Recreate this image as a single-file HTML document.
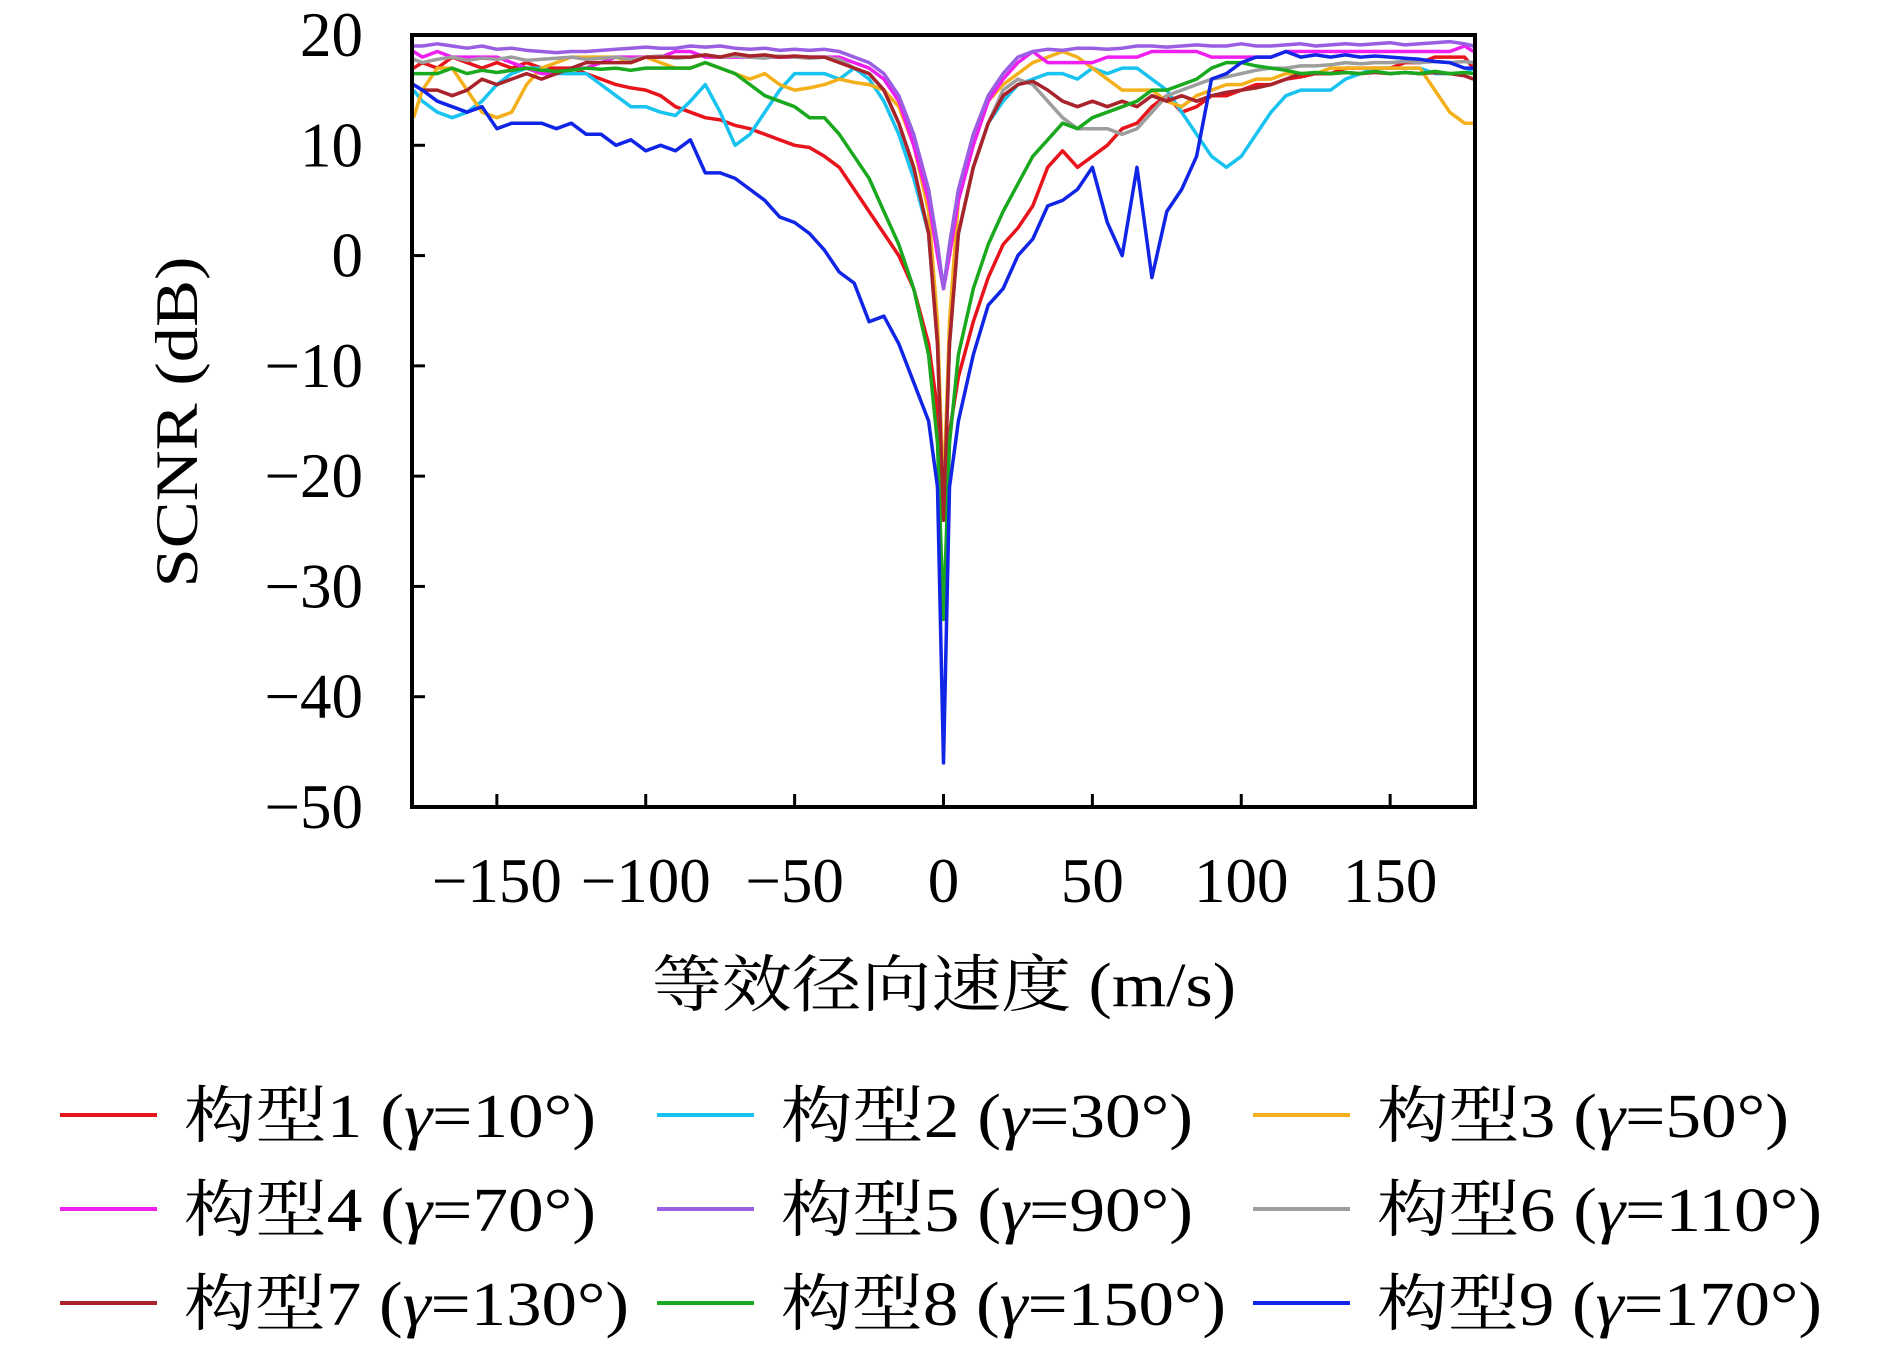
<!DOCTYPE html>
<html><head><meta charset="utf-8"><style>
html,body{margin:0;padding:0;background:#fff;}
svg{display:block;}
text{font-family:"Liberation Serif","Noto Serif CJK SC",serif;fill:#000;}
</style></head><body>
<svg id="chart" width="1890" height="1346" xmlns="http://www.w3.org/2000/svg">
<g id="series"></g>
<rect x="412" y="35" width="1063" height="772" fill="none" stroke="#000" stroke-width="4"/>
<g id="ticks"></g>
<text x="183" y="422" font-size="60" text-anchor="middle" dominant-baseline="middle" textLength="331" lengthAdjust="spacingAndGlyphs" transform="rotate(-90 183 422)">SCNR (dB)</text>
<text x="944" y="1006" font-size="62" text-anchor="middle" textLength="584" lengthAdjust="spacingAndGlyphs">等效径向速度 (m/s)</text>
<g id="legend"></g>
</svg>
<script>
const xs=[-178,-175,-170,-165,-160,-155,-150,-145,-140,-135,-130,-125,-120,-115,-110,-105,-100,-95,-90,-85,-80,-75,-70,-65,-60,-55,-50,-45,-40,-35,-30,-25,-20,-15,-10,-5,-2,0,2,5,10,15,20,25,30,35,40,45,50,55,60,65,70,75,80,85,90,95,100,105,110,115,120,125,130,135,140,145,150,155,160,165,170,175,178];
const s1=[17,17.5,17,18,17.5,17,17.5,17,17.5,17,17,17,16.5,16,15.5,15.2,15,14.5,13.5,13,12.5,12.3,11.8,11.5,11,10.5,10,9.8,9,8,6,4,2,0,-3,-8,-14,-24,-16,-11,-6,-2,1,2.5,4.5,8,9.5,8,9,10,11.5,12,13.5,14.5,13,13.5,14.5,14.5,15,15.5,15.5,16,16.2,16.5,16.5,17,17,17,17,17.5,17.5,18,18,18,17];
const s2=[15,14,13,12.5,13,14,15.5,16.5,17,17,16.5,16.5,16.5,15.5,14.5,13.5,13.5,13,12.7,14,15.5,13,10,11,13,15,16.5,16.5,16.5,16,17,16,14,11,7,2,-8,-24,-8,2,8,12,14,15.5,16,16.5,16.5,16,17,16.5,17,17,16,15,13,11,9,8,9,11,13,14.5,15,15,15,16,16.5,17,17,17,17,16.5,16.5,16.5,17];
const s3=[12.5,15,17,17,15,13,12.5,13,15.5,17,17.5,18,18,18,18,17.5,18,17.5,17,17,17.5,17,16.5,16,16.5,15.5,15,15.2,15.5,16,15.7,15.5,15,13.5,10,4,-6,-22,-6,5,11,14,15.5,16.5,17.5,18,18.5,18,17,16,15,15,15,14,13.5,14.5,15,15.5,15.5,16,16,16.5,16.5,16.5,17,17,17,17,17,17,17,15,13,12,12];
const s4=[18.5,18,18.5,18,18,18,18,17.5,17,16.5,16.5,17,17,17.5,18,18,18,18,18.5,18.5,18,18,18,18,18,18,18,18,18,18,17.5,17,16,14,10,5,0,-3,0,5,10,14,16,17.5,18.5,17.5,17.5,17.5,17.5,18,18,18,18.5,18.5,18.5,18.5,18,18,18,18,18,18.5,18.5,18.5,18.5,18.5,18.5,18.5,18.5,18.5,18.5,18.5,18.5,19,18.5];
const s5=[19,19,19.2,19,18.8,19,18.7,18.8,18.6,18.5,18.4,18.5,18.5,18.6,18.7,18.8,18.9,18.8,18.8,19,18.9,19,18.8,18.7,18.8,18.6,18.7,18.6,18.7,18.5,18,17.5,16.5,14.5,11,6,1,-3,1,6,11,14.5,16.5,18,18.5,18.7,18.6,18.8,18.8,18.7,18.8,19,19,18.9,19,19.1,19,19,19.2,19,19,19.1,19.2,19,19.1,19.2,19.1,19.2,19.3,19.1,19.2,19.3,19.4,19.2,19];
const s6=[17.8,17.5,17.8,18,17.7,17.9,17.8,18,17.7,17.8,17.9,18,17.8,17.9,18,17.8,18,18.1,17.9,18,18.2,18,18.1,18,17.9,18.1,18,17.9,18,17.8,17,16.5,15,12,8,2,-8,-24,-8,2,8,12,15,16,15.5,14,12.5,11.5,11.5,11.5,11,11.5,13,14.5,15,15.5,16,16.2,16.5,16.8,17,17,17.2,17.2,17.3,17.5,17.4,17.5,17.5,17.6,17.5,17.6,17.5,17.6,17.5];
const s7=[15.5,15,15,14.5,15,16,15.5,16,16.5,16,16.5,17,17.5,17.5,17.5,17.5,18,18,18,18,18.2,18,18.3,18.1,18.2,18,18.1,18,18,17.5,17,16.5,15,12,8,2,-8,-24,-8,2,8,12,14.5,15.5,15.8,15,14,13.5,14,13.5,14,13.5,14.5,14,14.5,14,14.5,14.8,15,15.2,15.5,16,16.5,16.5,16.5,16.6,16.5,16.6,16.5,16.6,16.5,16.6,16.5,16.3,16];
const s8=[16.5,16.5,16.5,17,16.5,16.8,16.6,16.8,17,16.8,16.7,16.8,17,16.9,17,16.8,17,17,17,17,17.5,17,16.5,15.5,14.5,14,13.5,12.5,12.5,11,9,7,4,1,-3,-9,-17,-33,-17,-9,-3,1,4,6.5,9,10.5,12,11.5,12.5,13,13.5,14,15,15,15.5,16,17,17.5,17.5,17.2,17,16.8,16.5,16.6,16.5,16.6,16.5,16.7,16.5,16.6,16.5,16.7,16.5,16.6,16.5];
const s9=[15.5,15,14,13.5,13,13.5,11.5,12,12,12,11.5,12,11,11,10,10.5,9.5,10,9.5,10.5,7.5,7.5,7,6,5,3.5,3,2,0.5,-1.5,-2.5,-6,-5.5,-8,-11.5,-15,-21,-46,-21,-15,-9,-4.5,-3,0,1.5,4.5,5,6,8,3,0,8,-2,4,6,9,16,16.5,17.5,18,18,18.5,18,18.2,18,18.2,18,18.1,18,17.9,17.8,17.6,17.5,17,17];
const seriesVals=[s1,s2,s3,s4,s5,s6,s7,s8,s9];
const colors=["#e8141c","#19c3f0","#f4b01a","#ef1ff0","#9a5ee3","#9d9d9d","#a8232a","#19a81e","#1025e6"];
const gammas=["10","30","50","70","90","110","130","150","170"];
const xTicks=[-150,-100,-50,0,50,100,150];
const yTicks=[20,10,0,-10,-20,-30,-40,-50];
const X0=412,X1=1475,Y0=35,Y1=807,XMIN=-178.5,XMAX=178.5,YMIN=-50,YMAX=20;
const sx=v=>X0+(v-XMIN)/(XMAX-XMIN)*(X1-X0);
const sy=v=>Y1-(v-YMIN)/(YMAX-YMIN)*(Y1-Y0);
const NS="http://www.w3.org/2000/svg";
const sg=document.getElementById('series');
seriesVals.forEach((vals,i)=>{
  const p=document.createElementNS(NS,'polyline');
  p.setAttribute('points',vals.map((v,j)=>sx(xs[j]).toFixed(1)+','+sy(v).toFixed(1)).join(' '));
  p.setAttribute('fill','none');p.setAttribute('stroke',colors[i]);p.setAttribute('stroke-width','3.5');p.setAttribute('stroke-linejoin','round');
  
  
  sg.appendChild(p);
});
const tg=document.getElementById('ticks');
xTicks.forEach(t=>{
  const l=document.createElementNS(NS,'line');
  l.setAttribute('x1',sx(t));l.setAttribute('x2',sx(t));l.setAttribute('y1',Y1);l.setAttribute('y2',Y1-13);
  l.setAttribute('stroke','#000');l.setAttribute('stroke-width','3');
  
  
  tg.appendChild(l);
  const tx=document.createElementNS(NS,'text');
  tx.setAttribute('x',sx(t));tx.setAttribute('y',902);tx.setAttribute('font-size','63');tx.setAttribute('text-anchor','middle');
  tx.textContent=(t<0?'\u2212':'')+Math.abs(t);
  
  
  tg.appendChild(tx);
});
yTicks.forEach(t=>{
  const l=document.createElementNS(NS,'line');
  l.setAttribute('x1',X0);l.setAttribute('x2',X0+13);l.setAttribute('y1',sy(t));l.setAttribute('y2',sy(t));
  l.setAttribute('stroke','#000');l.setAttribute('stroke-width','3');
  
  
  tg.appendChild(l);
  const tx=document.createElementNS(NS,'text');
  tx.setAttribute('x',363);tx.setAttribute('y',sy(t)+21);tx.setAttribute('font-size','63');tx.setAttribute('text-anchor','end');
  tx.textContent=(t<0?'\u2212':'')+Math.abs(t);
  
  
  tg.appendChild(tx);
});
const lg=document.getElementById('legend');
const colX=[60,657,1253],rowY=[1115,1209,1303];
colors.forEach((c,i)=>{
  const cx=colX[i%3],cy=rowY[Math.floor(i/3)];
  const l=document.createElementNS(NS,'line');
  l.setAttribute('x1',cx);l.setAttribute('x2',cx+97);l.setAttribute('y1',cy);l.setAttribute('y2',cy);
  l.setAttribute('stroke',c);l.setAttribute('stroke-width','4');
  
  
  lg.appendChild(l);
  const tx=document.createElementNS(NS,'text');
  tx.setAttribute('x',cx+124);tx.setAttribute('y',cy+22);tx.setAttribute('font-size','62');
  tx.setAttribute('textLength',gammas[i].length>2?445:412);
  tx.setAttribute('lengthAdjust','spacingAndGlyphs');
  tx.innerHTML='构型'+(i+1)+' (<tspan font-style="italic">γ</tspan>='+gammas[i]+'°)';
  
  
  lg.appendChild(tx);
});
</script>
</body></html>
